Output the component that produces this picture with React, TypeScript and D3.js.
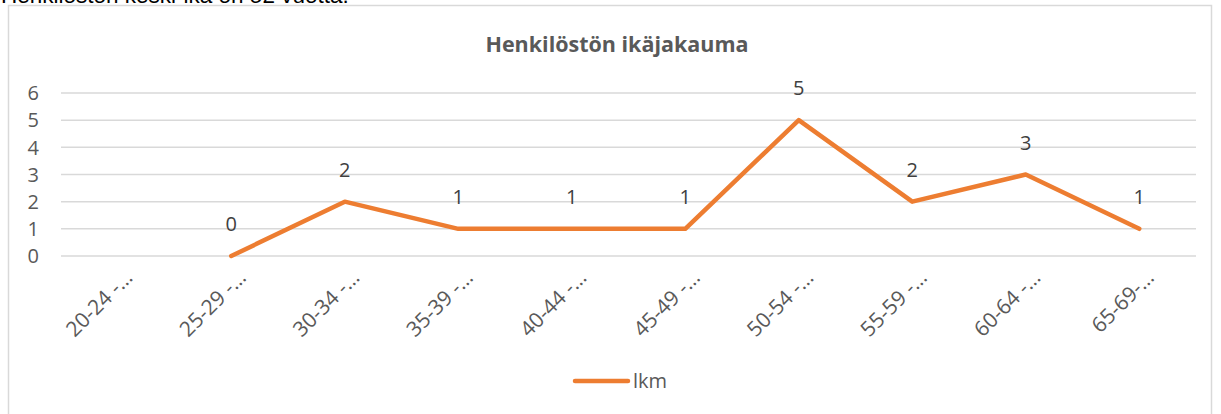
import * as d3 from "d3";

const categories = [
  "20-24 -…", "25-29 -…", "30-34 -…", "35-39 -…", "40-44 -…",
  "45-49 -…", "50-54 -…", "55-59 -…", "60-64 -…", "65-69-…",
];
const values: (number | null)[] = [null, 0, 2, 1, 1, 1, 5, 2, 3, 1];
const yTicks = [0, 1, 2, 3, 4, 5, 6];
const seriesName = "lkm";
const chartTitle = "Henkilöstön ikäjakauma";
const caption = "Henkilöston keski-ikä on 52 vuotta.";

const width = 1221;
const height = 414;
const plot = { left: 61, right: 1196, top: 93, bottom: 256 };
const font = "'Open Sans', sans-serif";
const orange = "#ED7D31";
const grid = "#d9d9d9";

export default function App() {
  const x = d3
    .scaleBand<string>()
    .domain(categories)
    .range([plot.left, plot.right]);
  const y = d3.scaleLinear().domain([0, 6]).range([plot.bottom, plot.top]);

  const pts = categories.map((c, i) => ({ c, v: values[i] }));
  const line = d3
    .line<{ c: string; v: number | null }>()
    .defined((d) => d.v !== null)
    .x((d) => x(d.c)! + x.bandwidth() / 2)
    .y((d) => y(d.v as number));

  return (
    <svg
      width={width}
      height={height}
      style={{ position: "absolute", left: 0, top: 0, background: "#fff" }}
      fontFamily={font}
    >
      <text x={1} y={3} fontFamily="'Liberation Sans', Arial, sans-serif" fontSize={22.5} fill="#000">
        {caption}
      </text>
      <rect x={8.5} y={5.5} width={1203} height={420} fill="#fff" stroke={grid} strokeWidth={1.5} />
      <text x={617} y={52} textAnchor="middle" fontWeight="bold" fontSize={21.5} fill="#595959">
        {chartTitle}
      </text>
      {yTicks.map((t) => (
        <g key={t}>
          <line x1={plot.left} x2={plot.right} y1={y(t)} y2={y(t)} stroke={grid} strokeWidth={1.5} />
          <text x={39} y={y(t)} dy="0.36em" textAnchor="end" fontSize={20} fill="#595959">
            {t}
          </text>
        </g>
      ))}
      {categories.map((c) => {
        const cx = x(c)! + x.bandwidth() / 2;
        return (
          <text
            key={c}
            transform={`translate(${cx + 16},${279}) rotate(-45)`}
            textAnchor="end"
            fontSize={21}
            fill="#595959"
          >
            {c}
          </text>
        );
      })}
      <path d={line(pts) ?? ""} fill="none" stroke={orange} strokeWidth={4.5} strokeLinejoin="round" strokeLinecap="round" />
      {pts
        .filter((d) => d.v !== null)
        .map((d) => (
          <text
            key={d.c}
            x={x(d.c)! + x.bandwidth() / 2}
            y={y(d.v as number) - 25}
            textAnchor="middle"
            fontSize={20}
            fill="#404040"
          >
            {d.v}
          </text>
        ))}
      <line x1={575} x2={628} y1={381} y2={381} stroke={orange} strokeWidth={4.5} strokeLinecap="round" />
      <text x={633} y={388} fontSize={20} fill="#595959">
        {seriesName}
      </text>
    </svg>
  );
}
